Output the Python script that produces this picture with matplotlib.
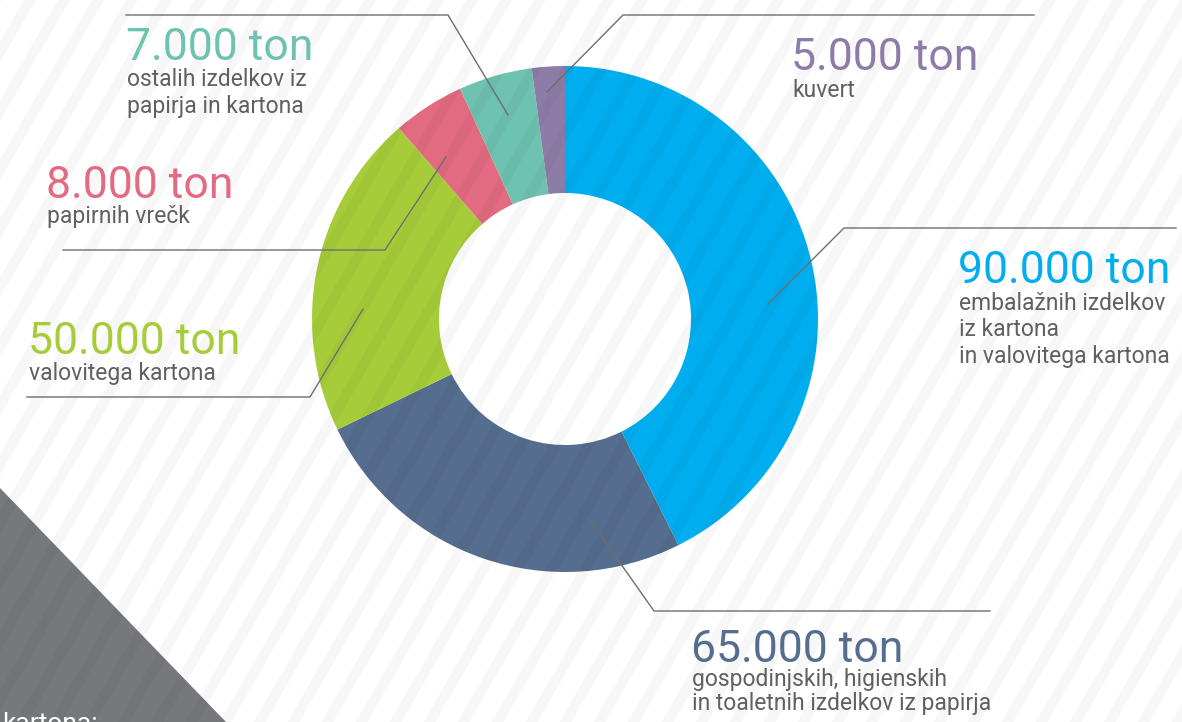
import matplotlib
matplotlib.use("Agg")
import matplotlib.pyplot as plt
from matplotlib.patches import Polygon
from matplotlib.collections import PolyCollection
import numpy as np

W, H = 1182, 722

# slice shares (percent of ring), clockwise from 12 o'clock
shares = [42.6, 25.2, 20.8, 4.6, 4.7, 2.1]
values = ["90.000 ton", "65.000 ton", "50.000 ton", "8.000 ton", "7.000 ton", "5.000 ton"]
captions = [
    ["embalažnih izdelkov", "iz kartona", "in valovitega kartona"],
    ["gospodinjskih, higienskih", "in toaletnih izdelkov iz papirja"],
    ["valovitega kartona"],
    ["papirnih vrečk"],
    ["ostalih izdelkov iz", "papirja in kartona"],
    ["kuvert"],
]
colors = ["#00aeef", "#556d8e", "#a6cd39", "#e36b81", "#6ec2b0", "#8e7ca8"]

# layout in pixel coordinates (x from left, y from top)
label_pos = [(958, 283), (691, 662), (28, 354), (46, 198), (126, 60), (791, 70)]
line_gap = [26.5, 24, 26, 25, 26.5, 27]
leaders = [
    [(768, 304), (844, 228), (1176, 228)],
    [(592, 523), (654, 611), (990, 611)],
    [(363, 309), (310, 397), (27, 397)],
    [(446, 157), (385, 250), (63, 250)],
    [(508, 115), (448, 15), (126, 15)],
    [(547, 92), (623, 15), (1034, 15)],
]
centre = (565, 319)
r_out, r_ring = 253, 127

text_grey = "#5f6062"
line_grey = "#6d6e71"

plt.rcParams["font.family"] = ["Roboto", "DejaVu Sans"]


def py(y):
    # picture y (down) -> data y (up)
    return H - y


fig = plt.figure(figsize=(W / 100, H / 100), dpi=100)
ax = fig.add_axes([0, 0, 1, 1])
ax.set_facecolor("white")

# grey corner triangle with cut-off caption
ax.add_patch(Polygon([(0, py(488)), (0, py(H)), (226, py(H))], closed=True,
                     facecolor="#77787b", edgecolor="none", zorder=0.5))
ax.text(2, py(731), "kartona:", color="white", fontsize=19, va="baseline", zorder=4)

# ring
ax.pie(shares, colors=colors, startangle=90, counterclock=False,
       radius=r_out, center=(centre[0], py(centre[1])),
       wedgeprops=dict(width=r_ring, linewidth=0))

# diagonal stripes over everything
k = 0.577
polys = []
for c in np.arange(30 - 34 * 2, W + k * H + 40, 34):
    polys.append([(c - 6, py(0)), (c + 6, py(0)),
                  (c + 6 - k * H, py(H)), (c - 6 - k * H, py(H))])
ax.add_collection(PolyCollection(polys, facecolors="black", alpha=0.03,
                                 edgecolors="none", zorder=2))

# leader lines and labels
for i in range(len(shares)):
    xs = [p[0] for p in leaders[i]]
    ys = [py(p[1]) for p in leaders[i]]
    ax.plot(xs, ys, color=line_grey, lw=1.0, zorder=3, solid_joinstyle="miter")
    x0, y0 = label_pos[i]
    ax.text(x0, py(y0), values[i], color=colors[i], fontsize=32,
            va="baseline", ha="left", zorder=4)
    for j, line in enumerate(captions[i]):
        ax.text(x0 + 1, py(y0 + line_gap[i] * (j + 1)), line, color=text_grey,
                fontsize=16.5, va="baseline", ha="left", zorder=4)

ax.set_xlim(0, W)
ax.set_ylim(0, H)
ax.set_aspect("auto")
ax.axis("off")

fig.savefig("out.png", dpi=100, facecolor="white")
